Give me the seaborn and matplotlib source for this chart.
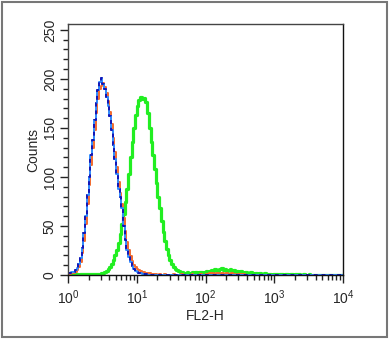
"""
Flow cytometry overlay histogram (FL2-H), redrawn with seaborn.
"""
import matplotlib

matplotlib.use("Agg")
import matplotlib.pyplot as plt
import numpy as np
import pandas as pd
import seaborn as sns
from matplotlib.patches import Rectangle
from matplotlib.ticker import MultipleLocator, NullFormatter, LogLocator

# channel grid: 160 bins of 0.025 decade from 10^0 to 10^4
BIN_STEP = 0.025
N_BINS = 160

# counts per bin (10 bins per row)
blank_counts = [
    2, 2, 3, 3, 5, 7, 11, 17, 28, 43,
    60, 82, 100, 122, 138, 158, 175, 189, 197, 201,
    195, 190, 182, 172, 162, 148, 133, 118, 103, 88,
    80, 68, 50, 36, 26, 18, 13, 9, 6, 4,
    3, 2, 2, 1, 1, 1, 0, 0, 0, 0,
    0, 0, 0, 0, 0, 0, 0, 0, 0, 0,
    0, 0, 0, 0, 0, 0, 0, 0, 0, 0,
    0, 0, 0, 0, 0, 0, 0, 0, 0, 0,
    0, 0, 0, 0, 0, 0, 0, 0, 0, 0,
    0, 0, 0, 0, 0, 0, 0, 0, 0, 0,
    0, 0, 0, 0, 0, 0, 0, 0, 0, 0,
    0, 0, 0, 0, 0, 0, 0, 0, 0, 0,
    0, 0, 0, 0, 0, 0, 0, 0, 0, 0,
    0, 0, 0, 0, 0, 0, 0, 0, 0, 0,
    0, 0, 0, 0, 0, 0, 0, 0, 0, 0,
    0, 0, 0, 0, 0, 0, 0, 0, 0, 0,
]
isotype_counts = [
    1, 1, 2, 2, 3, 5, 8, 13, 22, 35,
    52, 72, 92, 112, 130, 148, 165, 180, 190, 193,
    196, 192, 186, 177, 166, 154, 140, 125, 110, 95,
    84, 72, 58, 45, 34, 26, 19, 14, 10, 8,
    6, 5, 4, 3, 3, 2, 2, 2, 1, 1,
    1, 1, 0, 1, 0, 0, 1, 0, 0, 0,
    0, 1, 0, 0, 0, 0, 1, 0, 0, 0,
    0, 0, 1, 0, 0, 0, 0, 1, 0, 0,
    1, 1, 2, 1, 2, 1, 2, 2, 1, 2,
    2, 1, 2, 1, 1, 2, 1, 1, 0, 1,
    1, 0, 1, 0, 0, 0, 0, 0, 0, 0,
    0, 0, 0, 0, 0, 0, 0, 0, 0, 0,
    0, 0, 0, 0, 0, 0, 0, 0, 0, 0,
    0, 0, 0, 0, 0, 0, 0, 0, 0, 0,
    0, 0, 0, 0, 0, 0, 0, 0, 0, 0,
    0, 0, 0, 0, 0, 0, 0, 0, 0, 0,
]
antibody_counts = [
    1, 1, 0, 1, 1, 1, 0, 1, 1, 1,
    1, 1, 1, 1, 1, 1, 1, 1, 1, 2,
    2, 3, 4, 6, 8, 11, 15, 20, 26, 33,
    42, 52, 62, 74, 88, 103, 120, 136, 150, 163,
    172, 178, 182, 180, 181, 176, 165, 150, 136, 122,
    108, 94, 80, 68, 55, 44, 35, 27, 20, 15,
    11, 8, 6, 5, 4, 3, 3, 2, 2, 3,
    2, 2, 3, 2, 3, 2, 3, 3, 2, 3,
    4, 3, 4, 5, 4, 6, 5, 4, 6, 7,
    5, 6, 4, 5, 6, 4, 5, 3, 4, 3,
    4, 3, 2, 3, 2, 2, 3, 2, 1, 2,
    1, 2, 1, 1, 2, 1, 1, 1, 0, 1,
    1, 1, 0, 1, 1, 0, 1, 1, 0, 1,
    1, 0, 1, 0, 1, 0, 0, 1, 0, 0,
    1, 0, 0, 0, 0, 0, 0, 0, 0, 0,
    0, 0, 0, 0, 0, 0, 0, 0, 0, 0,
]

y_ticks = [0, 50, 100, 150, 200, 250]


def to_frame(counts, name):
    edges = 10 ** (BIN_STEP * np.arange(N_BINS + 1))
    vals = list(counts) + [counts[-1]]
    return pd.DataFrame({"FL2-H": edges, "Counts": vals, "sample": name})


def main() -> None:
    sns.set_theme(style="ticks")
    plt.rcParams["font.family"] = ["Liberation Sans", "DejaVu Sans"]
    plt.rcParams["mathtext.fontset"] = "custom"
    plt.rcParams["mathtext.rm"] = "Liberation Sans"
    plt.rcParams["mathtext.it"] = "Liberation Sans:italic"

    fig = plt.figure(figsize=(3.9, 3.39), dpi=100)
    ax = fig.add_axes([68 / 390, 1 - 275 / 339, 275 / 390, 251 / 339])

    green = to_frame(antibody_counts, "antibody")
    orange = to_frame(isotype_counts, "isotype")
    blue = to_frame(blank_counts, "blank")

    sns.lineplot(data=green, x="FL2-H", y="Counts", color="#22ee22", lw=2.3,
                 drawstyle="steps-post", ax=ax, errorbar=None)
    sns.lineplot(data=orange, x="FL2-H", y="Counts", color="#f26a2e", lw=1.4,
                 drawstyle="steps-post", ax=ax, errorbar=None)
    sns.lineplot(data=blue, x="FL2-H", y="Counts", color="#2f8cff", lw=1.4,
                 drawstyle="steps-post", ax=ax, errorbar=None)
    sns.lineplot(data=blue, x="FL2-H", y="Counts", color="#1414b4", lw=1.4,
                 drawstyle="steps-post", ax=ax, errorbar=None,
                 linestyle=(0, (2, 2)))

    ax.set_xscale("log")
    ax.set_xlim(1, 1e4)
    ax.set_ylim(0, 256)
    ax.xaxis.set_major_locator(LogLocator(base=10, numticks=10))
    ax.xaxis.set_minor_locator(LogLocator(base=10, subs=np.arange(2, 10), numticks=20))
    ax.xaxis.set_minor_formatter(NullFormatter())
    ax.set_yticks(y_ticks)
    ax.yaxis.set_minor_locator(MultipleLocator(10))

    for s in ax.spines.values():
        s.set_visible(True)
        s.set_color("#111111")
        s.set_linewidth(1.0)
    ax.spines["left"].set_color("#444444")
    ax.spines["top"].set_color("#444444")

    ax.tick_params(axis="both", which="major", direction="out", length=6,
                   width=1, color="#222222", labelsize=10, pad=2)
    ax.tick_params(axis="x", which="major", pad=4)
    ax.tick_params(axis="both", which="minor", direction="out", length=3.5,
                   width=1, color="#222222")
    for lab in ax.get_yticklabels():
        lab.set_rotation(90)
        lab.set_va("center")

    ax.set_xlabel("FL2-H", fontsize=10, labelpad=1)
    ax.set_ylabel("Counts", fontsize=10, labelpad=2)

    fig.patches.append(Rectangle((2 / 390, 2 / 339), 385 / 390, 335 / 339,
                                 transform=fig.transFigure, fill=False,
                                 edgecolor="#777777", lw=1.5))

    fig.savefig("out.png", dpi=100)
    plt.close(fig)


if __name__ == "__main__":
    main()
